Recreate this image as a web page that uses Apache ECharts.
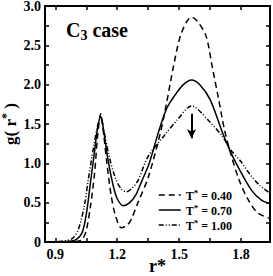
<!DOCTYPE html>
<html><head><meta charset="utf-8">
<script src="https://cdn.jsdelivr.net/npm/echarts@6/dist/echarts.min.js"></script>
<style>html,body{margin:0;padding:0;background:#fff}#c{width:273px;height:276px}</style>
</head><body><div id="c"></div>
<script>
// T* = 0.40 (dashed)
var r040 = [0.85,0.95,1.00,1.03,1.05,1.07,1.09,1.105,1.12,1.135,1.15,1.17,1.19,1.22,1.25,1.27,1.30,1.35,1.41,1.44,1.47,1.51,1.56,1.59,1.63,1.66,1.69,1.72,1.75,1.79,1.83,1.88,1.94];
var g040 = [0,0,0.005,0.03,0.15,0.45,0.87,1.35,1.63,1.35,1.0,0.6,0.35,0.18,0.22,0.3,0.5,0.82,1.40,1.78,2.2,2.65,2.86,2.8,2.62,2.23,1.83,1.42,1.12,0.79,0.56,0.37,0.30];
// T* = 0.70 (solid)
var r070 = [0.85,0.95,1.00,1.03,1.05,1.07,1.09,1.105,1.12,1.135,1.155,1.18,1.20,1.23,1.26,1.29,1.32,1.355,1.40,1.44,1.475,1.52,1.56,1.60,1.65,1.71,1.75,1.78,1.85,1.90,1.94];
var g070 = [0,0.005,0.03,0.12,0.35,0.75,1.15,1.45,1.6,1.4,1.05,0.72,0.55,0.46,0.5,0.6,0.78,1.0,1.40,1.70,1.85,2.0,2.06,2.0,1.81,1.39,1.14,0.98,0.66,0.53,0.49];
// T* = 1.00 (dash-dot)
var r100 = [0.85,0.93,0.98,1.01,1.04,1.06,1.085,1.105,1.12,1.135,1.16,1.19,1.22,1.245,1.27,1.30,1.35,1.43,1.49,1.56,1.64,1.71,1.75,1.80,1.84,1.89,1.94];
var g100 = [0,0.01,0.04,0.15,0.45,0.8,1.2,1.48,1.58,1.42,1.1,0.82,0.67,0.64,0.68,0.78,1.09,1.36,1.55,1.73,1.55,1.34,1.17,1.02,0.87,0.72,0.62];
var seriesNames = ['0.40','0.70','1.00'];
var xTickValues = [0.9,1.05,1.2,1.35,1.5,1.65,1.8];
var xLabelValues = [0.9,1.2,1.5,1.8];
var arrowR = 1.56, arrowFrom = 1.63, arrowTo = 1.32;

function pairs(r, g){ return r.map(function(v,i){return [v,g[i]];}); }
var FONT = '"Liberation Serif","Times New Roman",serif';
var chart = echarts.init(document.getElementById('c'), null, {renderer:'svg'});
var xCommon = {type:'value', min:0.85, max:1.94,
  axisLine:{show:true, onZero:false, lineStyle:{color:'#000', width:2}},
  axisTick:{show:true, inside:true, length:4, customValues:xTickValues, lineStyle:{color:'#000', width:1.5}},
  splitLine:{show:false}};
var yCommon = {type:'value', min:0, max:3, interval:0.5,
  axisLine:{show:true, lineStyle:{color:'#000', width:2}},
  axisTick:{show:true, inside:true, length:4, lineStyle:{color:'#000', width:1.5}},
  minorTick:{show:true, splitNumber:2, length:4, lineStyle:{color:'#000', width:1.5}},
  splitLine:{show:false}};
var lineTypes = [[6,4],'solid',[5,2,1,2,1,2]];
var datasets = [pairs(r040,g040), pairs(r070,g070), pairs(r100,g100)];
var series = datasets.map(function(d,i){
  return {name:seriesNames[i], type:'line', data:d, showSymbol:false, symbol:'none', smooth:0.3,
    lineStyle:{color:'#000', width:1.5, type:lineTypes[i]}, itemStyle:{color:'#000'}};
});
series.push({type:'line', data:[], silent:true,
  markLine:{silent:true, symbol:['none','arrow'], symbolSize:[7,9], label:{show:false},
    lineStyle:{color:'#000', width:2, type:'solid'},
    data:[[{coord:[arrowR, arrowFrom]},{coord:[arrowR, arrowTo]}]]}});
chart.setOption({
  animation:false,
  grid:{left:45, right:3, top:6, bottom:34, containLabel:false, outerBoundsMode:'none'},
  title:{text:'{a|C}{b|3}{a| case}', left:61, top:13,
    textStyle:{rich:{a:{fontFamily:FONT, fontWeight:'bold', fontSize:20, color:'#000'},
      b:{fontFamily:FONT, fontWeight:'bold', fontSize:14, color:'#000', padding:[10,0,0,0]}}}},
  xAxis:[Object.assign({}, xCommon, {position:'bottom',
      name:'r*', nameLocation:'middle', nameGap:15, nameMoveOverlap:false,
      nameTextStyle:{fontFamily:FONT, fontWeight:'bold', fontSize:18, color:'#000'},
      axisLabel:{show:true, customValues:xLabelValues, margin:5, color:'#000', fontFamily:FONT, fontWeight:'bold', fontSize:14,
        formatter:function(v){return v.toFixed(1);}}}),
    Object.assign({}, xCommon, {position:'top', axisLabel:{show:false}})],
  yAxis:[Object.assign({}, yCommon, {position:'left',
      name:'{a|g( r}{s|*}{a| )}', nameLocation:'middle', nameGap:25, nameRotate:90, nameMoveOverlap:false,
      nameTextStyle:{rich:{a:{fontFamily:FONT, fontWeight:'bold', fontSize:17, color:'#000'},
        s:{fontFamily:FONT, fontWeight:'bold', fontSize:12, color:'#000', padding:[0,0,8,0]}}},
      axisLabel:{show:true, margin:4, color:'#000', fontFamily:FONT, fontWeight:'bold', fontSize:14,
        formatter:function(v){return v===0?'0':v.toFixed(1);}}}),
    Object.assign({}, yCommon, {position:'right', axisLabel:{show:false}})],
  legend:{show:true, orient:'vertical', left:153, top:183, itemGap:1, itemWidth:22, itemHeight:12,
    data:seriesNames,
    itemStyle:{opacity:0},
    lineStyle:{width:1.5},
    formatter:function(n){return '{t|T}{s|*}{t| = '+n+'}';},
    textStyle:{rich:{t:{fontFamily:FONT, fontWeight:'bold', fontSize:12, color:'#000', lineHeight:14, verticalAlign:'bottom'},
      s:{fontFamily:FONT, fontWeight:'bold', fontSize:9, color:'#000', lineHeight:14, verticalAlign:'top'}}}},
  series:series
});
</script></body></html>
